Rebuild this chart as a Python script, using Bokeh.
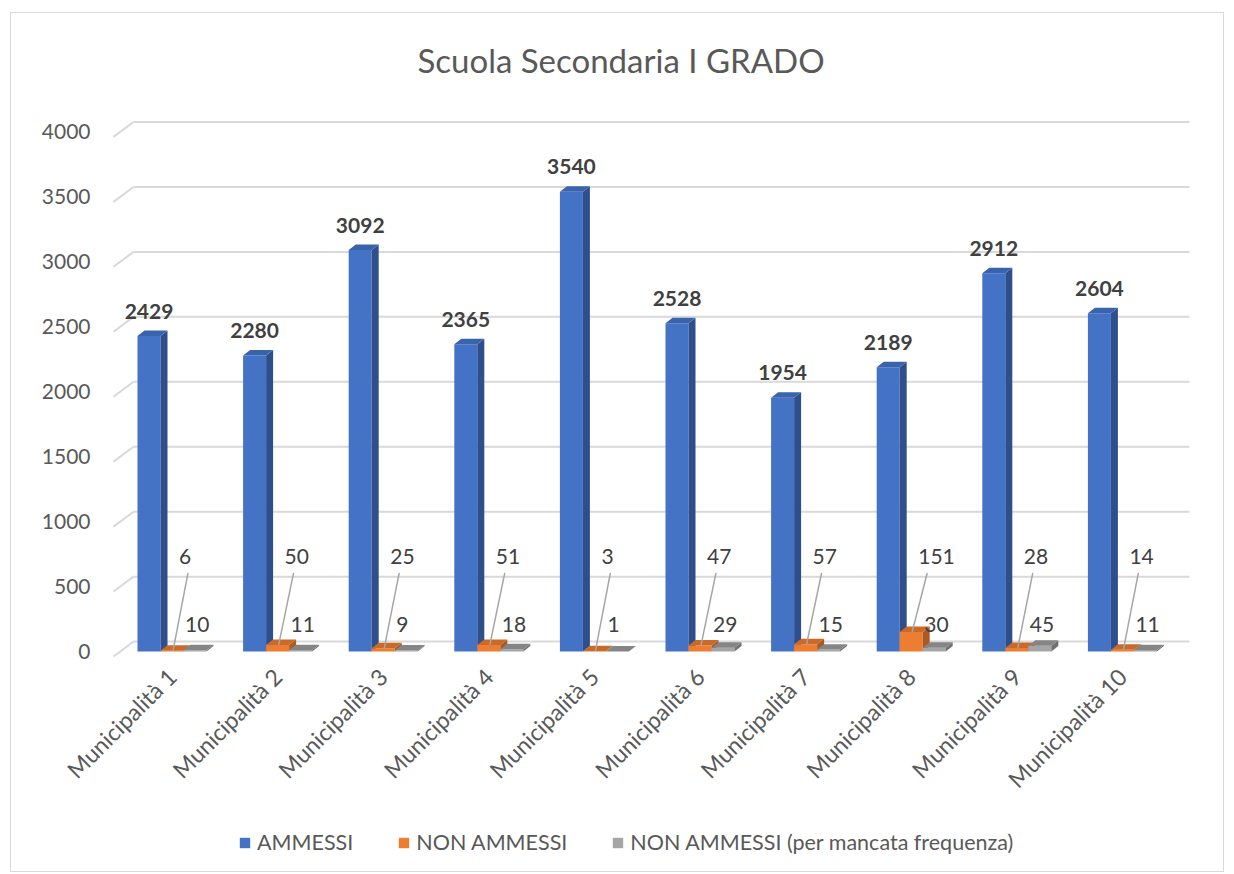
import numpy as np
from bokeh.plotting import figure
from bokeh.layouts import column
from bokeh.models import Range1d, FixedTicker, ColumnDataSource, Legend, LegendItem
from bokeh.core.properties import value
from bokeh.embed import file_html
from bokeh.resources import INLINE

# ---------------- data ----------------
categories = ["Municipalità 1", "Municipalità 2", "Municipalità 3", "Municipalità 4",
              "Municipalità 5", "Municipalità 6", "Municipalità 7", "Municipalità 8",
              "Municipalità 9", "Municipalità 10"]
ammessi = [2429, 2280, 3092, 2365, 3540, 2528, 1954, 2189, 2912, 2604]
non_ammessi = [6, 50, 25, 51, 3, 47, 57, 151, 28, 14]
non_ammessi_freq = [10, 11, 9, 18, 1, 29, 15, 30, 45, 11]
series_names = ["AMMESSI", "NON AMMESSI", "NON AMMESSI (per mancata frequenza)"]
y_ticks = [0, 500, 1000, 1500, 2000, 2500, 3000, 3500, 4000]
title_text = "Scuola Secondaria I GRADO"

# ---------------- geometry (screen-px based styling) ----------------
PXX = 105.6      # px per category
PXY = 0.1306     # px per unit value
def ux(px): return px / PXX
def uy(px): return px / PXY

OX, OY = 11, 13                        # page px of canvas origin
W = 1212
SPLIT, BOTTOM = 814, 871               # page px: chart / legend strip boundary
FL, FR, FT, FB = 100, 1200, 100, 660   # frame in page px
C0 = 171.5                              # page px of first cluster centre
BASE = 651                              # page px of bar base

FONT = "Lato"
TXT = "#595959"
LBL = "#404040"
GRID = "#D9D9D9"

H1 = SPLIT - OY
p = figure(width=W, height=H1, output_backend="svg", toolbar_location=None,
           x_range=Range1d(ux(FL - C0), ux(FR - C0)),
           y_range=Range1d(-uy(FB - BASE), uy(BASE - FT)),
           min_border_left=FL - OX, min_border_right=OX + W - FR,
           min_border_top=FT - OY, min_border_bottom=SPLIT - FB,
           background_fill_color=None, border_fill_color="white",
           outline_line_color=None)

p.title.text = title_text
p.title.align = "left"
p.title.offset = 417 - FL
p.title.text_font = FONT
p.title.text_font_size = "33px"
p.title.text_font_style = "normal"
p.title.text_color = TXT
p.title.standoff = 48

p.xgrid.visible = False
p.ygrid.visible = False

# y axis
p.yaxis.ticker = FixedTicker(ticks=y_ticks)
p.yaxis.axis_line_color = None
p.yaxis.major_tick_line_color = None
p.yaxis.minor_tick_line_color = None
p.yaxis.major_label_text_font = FONT
p.yaxis.major_label_text_font_size = "21px"
p.yaxis.major_label_text_color = TXT
p.yaxis.major_label_standoff = 4

# x axis
n = len(categories)
xs = list(range(n))
p.xaxis.ticker = FixedTicker(ticks=xs)
p.xaxis.major_label_overrides = {i: c for i, c in enumerate(categories)}
p.xaxis.major_label_orientation = np.pi / 4
p.xaxis.axis_line_color = None
p.xaxis.major_tick_line_color = None
p.xaxis.minor_tick_line_color = None
p.xaxis.major_label_text_font = FONT
p.xaxis.major_label_text_font_size = "23px"
p.xaxis.major_label_text_color = TXT
p.xaxis.major_label_standoff = 6

# 3D gridlines (back wall + left wall diagonals)
xf, xb, xe = ux(113 - C0), ux(133 - C0), ux(1189 - C0)
dfront, dback = -uy(5), uy(10)
p.segment(x0=[xf] * len(y_ticks), y0=[t + dfront for t in y_ticks],
          x1=[xb] * len(y_ticks), y1=[t + dback for t in y_ticks],
          line_color=GRID, line_width=2)
p.segment(x0=[xb] * len(y_ticks), y0=[t + dback for t in y_ticks],
          x1=[xe] * len(y_ticks), y1=[t + dback for t in y_ticks],
          line_color=GRID, line_width=2)

# bars
BW = ux(23)
DX, DY = ux(7), uy(5.5)
series = [ammessi, non_ammessi, non_ammessi_freq]
colors = [("#4472C4", "#2E4F8C", "#3A63AE"),
          ("#ED7D31", "#AD5A21", "#C96A28"),
          ("#A5A5A5", "#707070", "#858585")]
sources = []
for k, (vals, (cf, cs, ct)) in enumerate(zip(series, colors)):
    left = [i - 1.5 * BW + k * BW for i in xs]
    right = [l + BW for l in left]
    src = ColumnDataSource(dict(left=left, right=right, bottom=[0] * n, top=vals))
    sources.append(src)
    side_xs = [[r, r + DX, r + DX, r] for r in right]
    side_ys = [[0, DY, v + DY, v] for v in vals]
    top_xs = [[l, r, r + DX, l + DX] for l, r in zip(left, right)]
    top_ys = [[v, v, v + DY, v + DY] for v in vals]
    p.quad(left="left", right="right", bottom="bottom", top="top", source=src,
           fill_color=cf, line_color=None)
    p.patches(side_xs, side_ys, fill_color=cs, line_color=None)
    p.patches(top_xs, top_ys, fill_color=ct, line_color=None)

# data labels
p.text(x=[i - BW for i in xs], y=[v + uy(25) for v in ammessi],
       text=[str(v) for v in ammessi], text_align="center", text_baseline="middle",
       text_font=value(FONT), text_font_size="21px", text_font_style="bold",
       text_color=LBL)

p.segment(x0=[i + ux(16) for i in xs], y0=[uy(BASE - 572)] * n,
          x1=[i + ux(1) for i in xs], y1=[v for v in non_ammessi],
          line_color="#A6A6A6", line_width=1.5)
p.text(x=[i + ux(7) for i in xs], y=[uy(BASE - 555)] * n,
       text=[str(v) for v in non_ammessi], text_align="left",
       text_baseline="middle", text_font=value(FONT), text_font_size="21px",
       text_color=LBL)
p.text(x=[i + ux(13) for i in xs], y=[uy(BASE - 624)] * n,
       text=[str(v) for v in non_ammessi_freq], text_align="left",
       text_baseline="middle", text_font=value(FONT), text_font_size="21px",
       text_color=LBL)

# legend strip (separate figure below the chart); bars fall outside its y range
H2 = BOTTOM - SPLIT
pl = figure(width=W, height=H2, output_backend="svg", toolbar_location=None,
            x_axis_type=None, y_axis_type=None, min_border=0,
            x_range=Range1d(0, 1), y_range=Range1d(-2, -1),
            background_fill_color=None, border_fill_color="white",
            outline_line_color=None)
pl.xgrid.visible = False
pl.ygrid.visible = False
leg_items = []
for name, src, (cf, cs, ct) in zip(series_names, sources, colors):
    r = pl.quad(left="left", right="right", bottom="bottom", top="top", source=src,
                fill_color=cf, line_color=None)
    leg_items.append(LegendItem(label=name, renderers=[r]))
legend = Legend(items=leg_items, orientation="horizontal",
                location=(239 - OX - 90, H2 - (843 - SPLIT) - 12),
                glyph_width=13, glyph_height=13, label_standoff=6, spacing=44,
                label_text_font=FONT, label_text_font_size="21.5px", label_text_color=TXT,
                border_line_color=None, background_fill_alpha=0, padding=0, margin=0)
pl.add_layout(legend, "center")

layout = column(p, pl, spacing=0)
layout.styles = {"border": "1px solid #D9D9D9", "margin-left": f"{OX - 1}px",
                 "margin-top": f"{OY - 1}px"}

open("out.html", "w").write(file_html(layout, INLINE))
